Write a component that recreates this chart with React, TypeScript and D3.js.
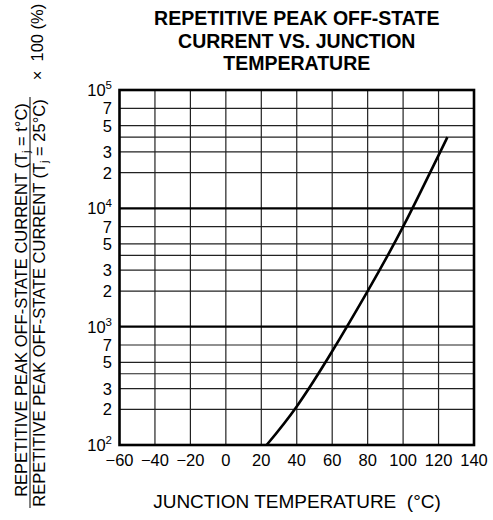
import React from "react";
import * as d3 from "d3";

const xTicks = [-60, -40, -20, 0, 20, 40, 60, 80, 100, 120, 140];
const decadeExps = [2, 3, 4, 5];
const minorMultipliers = [2, 3, 4, 5, 7];
const labeledMultipliers = [2, 3, 5, 7];
const curveTemp = [23, 40, 60, 80, 100, 125];
const curveValue = [100, 212, 620, 2000, 7000, 40000];

const titleLines = ["REPETITIVE PEAK OFF-STATE", "CURRENT VS. JUNCTION", "TEMPERATURE"];
const xTitle = "JUNCTION TEMPERATURE  (°C)";

const W = 493;
const H = 520;
const L = 119.5;
const R = 474;
const T = 90;
const B = 445;
const FONT = "'Liberation Sans', Arial, Helvetica, sans-serif";

export default function App() {
  const x = d3.scaleLinear().domain([-60, 140]).range([L, R]);
  const y = d3.scaleLog().domain([100, 100000]).range([B, T]);

  const minorVals: number[] = [];
  const labeled: { v: number; m: number }[] = [];
  decadeExps.slice(0, 3).forEach((e) => {
    minorMultipliers.forEach((m) => {
      const v = m * Math.pow(10, e);
      minorVals.push(v);
      if (labeledMultipliers.includes(m)) labeled.push({ v, m });
    });
  });

  const pts: [number, number][] = curveTemp.map((t, i) => [t, curveValue[i]]);
  const line = d3
    .line<[number, number]>()
    .x((d) => x(d[0]))
    .y((d) => y(d[1]))
    .curve(d3.curveNatural);

  return (
    <div style={{ position: "absolute", left: 0, top: 0 }}>
      <svg width={W} height={H} style={{ display: "block", background: "#fff" }} fontFamily={FONT}>
        <rect x={0} y={0} width={W} height={H} fill="#fff" />
        {/* title */}
        {titleLines.map((t, i) => (
          <text
            key={t}
            x={(L + R) / 2}
            y={25 + i * 22.7}
            textAnchor="middle"
            fontSize={19.5}
            fontWeight="bold"
          >
            {t}
          </text>
        ))}
        {/* minor horizontal grid */}
        {minorVals.map((v) => (
          <line key={"h" + v} x1={L} x2={R} y1={y(v)} y2={y(v)} stroke="#222" strokeWidth={1.2} />
        ))}
        {/* vertical grid */}
        {xTicks.slice(1, -1).map((t) => (
          <line key={"v" + t} x1={x(t)} x2={x(t)} y1={T} y2={B} stroke="#222" strokeWidth={1.2} />
        ))}
        {/* decade lines */}
        {[1000, 10000].map((v) => (
          <line key={"d" + v} x1={L} x2={R} y1={y(v)} y2={y(v)} stroke="#000" strokeWidth={2.2} />
        ))}
        {/* frame */}
        <rect x={L} y={T} width={R - L} height={B - T} fill="none" stroke="#000" strokeWidth={2.6} />
        {/* curve */}
        <path d={line(pts) || ""} fill="none" stroke="#000" strokeWidth={2.6} />
        {/* y tick labels */}
        {decadeExps.map((e) => (
          <text key={"e" + e} x={112} y={y(Math.pow(10, e)) + 6} textAnchor="end" fontSize={16.5}>
            10
            <tspan fontSize={11.5} dy={-7}>
              {e}
            </tspan>
          </text>
        ))}
        {labeled.map((d) => (
          <text key={"l" + d.v} x={112} y={y(d.v) + 6} textAnchor="end" fontSize={16.5}>
            {d.m}
          </text>
        ))}
        {/* x tick labels */}
        {xTicks.map((t) => (
          <text key={"x" + t} x={x(t)} y={466} textAnchor="middle" fontSize={16.5}>
            {t < 0 ? "\u2212" + Math.abs(t) : String(t)}
          </text>
        ))}
        {/* x title */}
        <text x={297} y={508} textAnchor="middle" fontSize={19} style={{ whiteSpace: "pre" }}>
          {xTitle}
        </text>
        {/* y title (fraction) */}
        <g transform="translate(27,300) rotate(-90)">
          <text x={0} y={0} textAnchor="middle" fontSize={16.5}>
            REPETITIVE PEAK OFF-STATE CURRENT (T
            <tspan fontSize={11} dy={3}>j</tspan>
            <tspan dy={-3}> = t°C)</tspan>
          </text>
        </g>
        <line x1={30} x2={30} y1={97} y2={508} stroke="#000" strokeWidth={1} />
        <g transform="translate(45,303) rotate(-90)">
          <text x={0} y={0} textAnchor="middle" fontSize={16.5}>
            REPETITIVE PEAK OFF-STATE CURRENT (T
            <tspan fontSize={11} dy={3}>j</tspan>
            <tspan dy={-3}> = 25°C)</tspan>
          </text>
        </g>
        <g transform="translate(43,42) rotate(-90)">
          <text x={0} y={0} textAnchor="middle" fontSize={16.5} style={{ whiteSpace: "pre" }}>
            {"×  100 (%)"}
          </text>
        </g>
      </svg>
    </div>
  );
}
